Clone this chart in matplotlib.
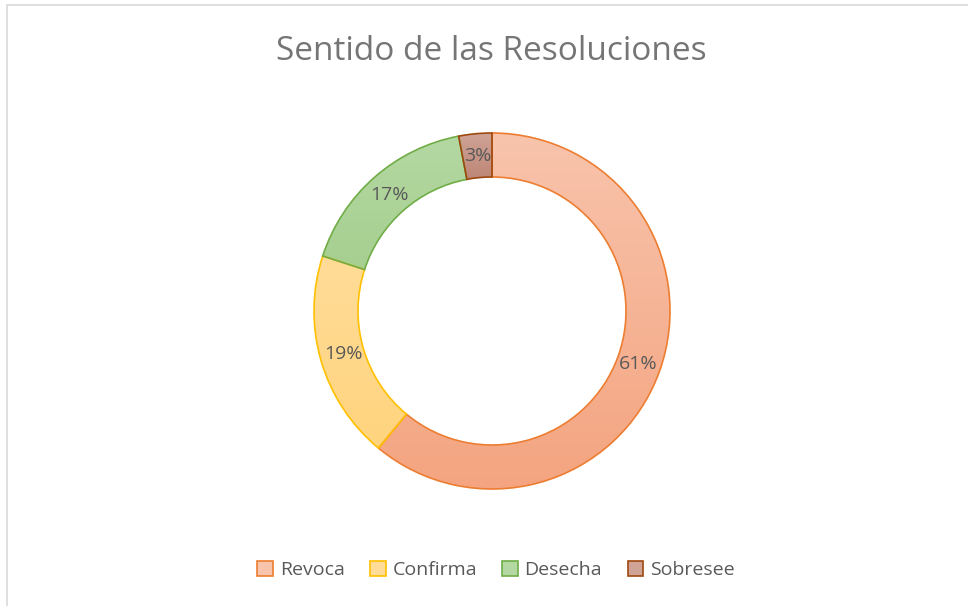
import numpy as np
import matplotlib.pyplot as plt
from matplotlib.colors import LinearSegmentedColormap
from matplotlib.patches import Rectangle

# share of resolutions (%)
labels = ["Revoca", "Confirma", "Desecha", "Sobresee"]
values = [61, 19, 17, 3]

edge_colors = ["#ED7D31", "#FFC000", "#70AD47", "#9E480E"]
top_colors = ["#F8C4AC", "#FFDC98", "#B4D8A2", "#CFA497"]
bottom_colors = ["#F4A480", "#FFD47E", "#A6CF90", "#BE8676"]

plt.rcParams['font.family'] = ['Open Sans', 'DejaVu Sans']

fig = plt.figure(figsize=(9.68, 6.06), dpi=100)
ax = fig.add_axes([0, 0, 1, 1])

cx, cy, r = 492, 295, 178
wedges, texts, autotexts = ax.pie(
    values, radius=r, center=(cx, cy), startangle=90, counterclock=False,
    wedgeprops=dict(width=44, linewidth=1.2), pctdistance=0.872,
    autopct=lambda p: f"{p:.0f}%",
    textprops=dict(color="#595959", fontsize=14), frame=True)

# chart border (only left/top are visible in the reference)
ax.add_patch(Rectangle((6.5, -10), 1000, 611, fill=False, ec="#D9D9D9", lw=1.2))

grad = np.linspace(0, 1, 256).reshape(-1, 1)
for w, ec, tc, bc in zip(wedges, edge_colors, top_colors, bottom_colors):
    w.set_edgecolor(ec)
    w.set_facecolor("none")
    w.set_zorder(3)
    x0, y0, x1, y1 = w.get_path().get_extents(w.get_patch_transform()).extents
    cmap = LinearSegmentedColormap.from_list("g", [bc, tc])
    im = ax.imshow(grad, cmap=cmap, extent=(x0, x1, y0, y1), origin='lower',
                   aspect='auto', zorder=2, vmin=0, vmax=1)
    im.set_clip_path(w)
for t in autotexts:
    t.set_zorder(5)

ax.set_xlim(0, 968)
ax.set_ylim(0, 606)
ax.set_aspect('equal')
ax.axis('off')

fig.text(491.5 / 968, 1 - 52 / 606, "Sentido de las Resoluciones", ha='center', va='center',
         fontsize=24, color="#757575")

handles = [Rectangle((0, 0), 1, 1, fc=bc, ec=ec, lw=1.2)
           for ec, bc in zip(edge_colors, top_colors)]
fig.legend(handles, labels, loc='center', bbox_to_anchor=(496 / 968, 1 - 570 / 606),
           ncol=4, frameon=False, fontsize=14, labelcolor="#595959",
           handlelength=0.8, handleheight=0.8, handletextpad=0.35, columnspacing=1.3)

fig.savefig("out.png", dpi=100)
